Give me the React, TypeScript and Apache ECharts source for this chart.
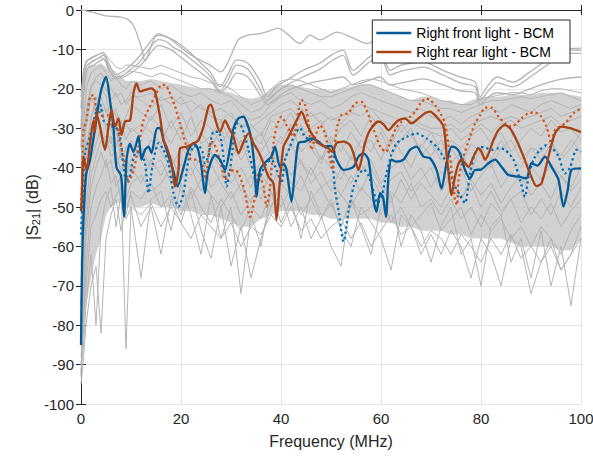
import React, { useEffect, useRef } from "react";
import * as echarts from "echarts";

// ---------- frequency grid used by the grey measurement band (MHz) ----------
const freqGrid = [0, 0.5, 1, 2, 3, 4, 5, 6, 7, 8, 9, 10, 12, 14, 16, 18, 20, 22, 24, 26, 28, 30, 32, 34, 36, 38, 40, 42, 44, 46, 48, 50, 52, 54, 56, 58, 60, 62, 64, 66, 68, 70, 72, 74, 76, 78, 80, 82, 84, 86, 88, 90, 92, 94, 96, 98, 100];

// dense core of the grey band (upper / lower edge, dB)
const coreTop = [-30, -20, -16, -14, -14, -13.5, -14.5, -16, -17, -17, -18, -18,
  -18, -17.5, -18, -18.5, -19, -19.5, -20, -20, -20.5, -21,
  -22, -22.5, -22, -20, -19, -19, -19.5, -20, -20, -20.5,
  -20, -19.5, -19, -19, -20, -21, -22, -23, -22, -22,
  -23, -23, -24, -23, -22, -22, -22, -21.5, -21.5, -21.5,
  -21, -21, -21, -21.5, -22];
const coreBottom = [-85, -80, -75, -68, -62, -58, -52, -50, -49, -49, -50, -50,
  -50, -49, -50, -50, -51, -51, -52, -52, -53, -54,
  -55, -55, -53, -52, -51, -51, -51, -52, -52, -53,
  -53, -53, -53, -53, -54, -54, -55, -55, -56, -56,
  -56, -57, -57, -58, -58, -58, -58, -59, -60, -60,
  -60, -60, -61, -61, -58];

// grey band curves (dB at freqGrid)
const grey01 = [-22, -15, -13, -12, -11.5, -11, -11.5, -13, -14.5, -15, -14, -14,
  -14.5, -15, -14, -15, -16, -17, -17.5, -18.5, -19, -20,
  -22, -24, -23, -20, -18, -17.5, -18, -19, -20, -21,
  -20, -19, -18, -17.5, -18, -19, -20, -20.5, -21, -22,
  -23, -23.5, -24, -24, -22.5, -22, -21.5, -21, -21, -21.5,
  -20.5, -20, -20, -20.5, -21];
const grey02 = [-40, -22, -16, -13, -12.5, -12, -13, -15, -16, -17, -16, -15.5,
  -16, -17, -16, -17, -18, -19, -20, -20, -21, -22,
  -24, -26, -25, -22, -20, -19, -20, -21, -22, -22,
  -21, -20, -19, -19, -20, -21, -22, -23, -23, -24,
  -25, -25, -26, -25, -24, -23, -23, -22.5, -22, -22.5,
  -22, -21.5, -21, -22, -23];
const grey03 = [-55, -30, -20, -16, -15, -14, -16, -18, -17, -19, -20, -18,
  -19, -18, -20, -19, -21, -22, -21, -23, -24, -23,
  -26, -28, -27, -24, -22, -21, -23, -24, -23, -25,
  -24, -22, -21, -22, -23, -24, -25, -26, -25, -27,
  -28, -27, -29, -27, -26, -25, -26, -24, -25, -26,
  -24, -23, -24, -25, -24];
const grey04 = [-70, -45, -28, -20, -17, -16, -18, -20, -22, -21, -24, -22,
  -22, -21, -23, -22, -24, -23, -25, -26, -25, -27,
  -29, -30, -28, -26, -24, -23, -25, -27, -26, -28,
  -27, -25, -24, -25, -26, -27, -28, -27, -29, -30,
  -30, -29, -31, -29, -28, -27, -28, -27, -28, -27,
  -26, -25, -27, -26, -25];
const grey05 = [-60, -40, -30, -22, -25, -20, -22, -28, -25, -30, -27, -24,
  -26, -28, -24, -30, -26, -32, -28, -30, -34, -30,
  -35, -32, -34, -28, -30, -26, -32, -30, -28, -34,
  -30, -28, -32, -27, -30, -34, -29, -32, -35, -31,
  -36, -33, -35, -32, -30, -34, -31, -36, -33, -30,
  -32, -28, -31, -30, -33];
const grey06 = [-75, -55, -35, -28, -22, -26, -25, -30, -35, -28, -33, -30,
  -32, -27, -30, -34, -29, -36, -31, -35, -30, -38,
  -33, -40, -36, -32, -34, -29, -36, -33, -38, -32,
  -36, -31, -35, -33, -38, -32, -36, -40, -34, -37,
  -33, -39, -36, -41, -35, -38, -33, -37, -40, -35,
  -38, -34, -37, -33, -36];
const grey07 = [-85, -60, -42, -32, -28, -24, -30, -34, -30, -38, -35, -33,
  -38, -33, -36, -40, -35, -38, -42, -36, -40, -44,
  -40, -45, -38, -36, -40, -34, -39, -42, -37, -40,
  -43, -37, -41, -38, -44, -40, -38, -43, -40, -45,
  -41, -44, -40, -46, -42, -39, -45, -41, -44, -40,
  -43, -39, -42, -45, -40];
const grey08 = [-93, -70, -50, -38, -34, -30, -35, -32, -40, -36, -42, -38,
  -35, -40, -38, -44, -39, -42, -37, -45, -42, -40,
  -46, -42, -48, -40, -37, -42, -38, -44, -41, -46,
  -40, -44, -39, -42, -47, -43, -41, -46, -43, -40,
  -46, -42, -48, -43, -47, -44, -49, -45, -42, -47,
  -44, -48, -42, -46, -43];
const grey09 = [-80, -75, -58, -45, -40, -36, -40, -38, -45, -42, -48, -44,
  -42, -46, -44, -40, -46, -48, -43, -47, -50, -46,
  -52, -48, -45, -50, -44, -47, -42, -48, -45, -50,
  -47, -50, -45, -48, -52, -46, -49, -44, -50, -48,
  -52, -48, -53, -50, -55, -49, -52, -48, -54, -50,
  -53, -49, -55, -51, -48];
const grey10 = [-90, -82, -65, -50, -45, -42, -38, -44, -42, -48, -52, -46,
  -48, -44, -50, -47, -52, -45, -50, -54, -48, -52,
  -56, -50, -53, -46, -50, -45, -52, -48, -53, -49,
  -55, -48, -52, -50, -47, -54, -50, -55, -52, -49,
  -56, -53, -50, -57, -52, -56, -53, -58, -55, -60,
  -55, -58, -62, -56, -52];
const grey11 = [-88, -78, -70, -55, -52, -48, -46, -50, -47, -45, -86, -50,
  -52, -49, -55, -50, -54, -58, -52, -55, -58, -54,
  -60, -55, -57, -52, -55, -50, -56, -53, -58, -55,
  -53, -58, -54, -60, -56, -52, -57, -55, -60, -56,
  -58, -62, -57, -60, -64, -58, -62, -57, -63, -60,
  -64, -60, -66, -62, -58];
const grey12 = [-92, -85, -75, -62, -80, -55, -48, -45, -55, -47, -53, -50,
  -68, -48, -46, -56, -44, -52, -62, -47, -58, -50,
  -72, -52, -60, -46, -54, -48, -58, -46, -52, -60,
  -65, -48, -55, -62, -50, -47, -60, -52, -56, -64,
  -55, -50, -62, -58, -70, -55, -52, -64, -58, -68,
  -56, -70, -60, -75, -58];
const grey13 = [-95, -88, -80, -70, -65, -82, -58, -52, -48, -56, -50, -47,
  -55, -50, -62, -48, -54, -46, -56, -63, -50, -65,
  -55, -68, -58, -50, -47, -55, -50, -58, -53, -48,
  -56, -60, -50, -54, -58, -66, -52, -55, -62, -57,
  -62, -56, -60, -68, -58, -62, -70, -58, -60, -72,
  -64, -58, -66, -62, -55];
const grey14 = [-65, -50, -38, -27, -24, -22, -26, -24, -27, -32, -29, -31,
  -29, -31, -34, -28, -33, -27, -34, -32, -28, -34,
  -38, -34, -31, -37, -32, -35, -29, -35, -39, -33,
  -34, -38, -33, -36, -31, -37, -33, -30, -37, -34,
  -38, -35, -39, -34, -36, -40, -35, -33, -38, -35,
  -36, -33, -38, -35, -31];
const grey15 = [-82, -66, -54, -42, -37, -33, -32, -37, -36, -41, -38, -40,
  -44, -38, -42, -37, -43, -40, -46, -39, -44, -48,
  -44, -49, -42, -45, -39, -44, -46, -40, -45, -43,
  -47, -42, -46, -40, -45, -49, -43, -48, -44, -47,
  -50, -45, -48, -44, -50, -46, -51, -48, -46, -52,
  -48, -52, -46, -50, -45];
const grey16 = [-50, -35, -26, -19, -18, -19, -20, -23, -21, -24, -23, -21,
  -23, -25, -22, -24, -22, -26, -24, -27, -28, -26,
  -30, -29, -32, -27, -26, -25, -28, -26, -29, -27,
  -29, -26, -27, -25, -28, -29, -31, -28, -30, -31,
  -32, -30, -33, -31, -29, -31, -29, -28, -30, -29,
  -28, -27, -29, -28, -27];
const greyBand = [grey01, grey02, grey03, grey04, grey05, grey06, grey07, grey08,
  grey09, grey10, grey11, grey12, grey13, grey14, grey15, grey16];

// upper smooth grey curves
const topFreq = [0, 2, 5, 8, 9.5, 10.5, 11.3, 12.2, 12.8, 13.4, 14.2, 15.2, 16.5, 18, 19.5, 21.5, 23.8, 25.8, 28, 29.3, 30.5, 31.5, 33, 35.8, 38, 39.4, 41.2, 43.8, 45.8, 47.8, 51.2, 54.4, 57.2, 60, 64, 68, 72, 76, 80, 84, 88, 92, 96, 100];
const topDb = [0, -0.5, -1.5, -1.8, -2.5, -4, -6.5, -10, -13, -11.5, -8.5, -6.5, -6.5, -7.5, -9, -11, -12.7, -14, -15.7, -13.5, -10, -7.5, -6.5, -6, -5.2, -4.6, -6, -8.5, -6.4, -7.6, -5.6, -7.1, -8.5, -7, -6, -7, -6.5, -8, -7.5, -9, -8, -9, -10, -10.2];
const upperFreq = [0, 0.5, 1.2, 2.5, 4.5, 5.5, 7, 8.5, 10, 11.5, 13, 14.5, 15.5, 17, 18.5, 20, 22, 24, 26, 27.8, 29.5, 31.1, 32.8, 34, 35.8, 37.3, 39, 41.2, 44.4, 47.8, 50, 52.4, 54.4, 57.4, 59.8, 61.8, 64, 66, 68.4, 72.4, 75.8, 78.8, 79.8, 81.5, 83.2, 86.4, 89.8, 93.2, 96.4, 100];
const upperA = [-25, -16, -13, -12, -10.8, -13.5, -16.5, -15.5, -14, -12, -9.5, -7, -6, -6.8, -7.6, -8.9, -11, -13.5, -16, -19.5, -16, -12.7, -13, -14.4, -18, -22, -19.5, -17.8, -15.3, -13.5, -11.5, -10.2, -15.3, -12.2, -10.2, -15.3, -14, -13.5, -13.2, -15.3, -17, -18.3, -22, -19, -17, -18.3, -15.7, -12.7, -10.2, -9.7];
const upperB = [-30, -18, -14, -13, -11.5, -14.5, -17, -16.5, -15, -13.5, -11, -8.5, -7.5, -8, -9.5, -10.5, -12.5, -14.5, -17, -20.5, -17.5, -14, -14.5, -16, -20, -23, -21, -19, -17, -15, -13, -11.5, -16.5, -13.5, -11.5, -16.5, -15.5, -15, -14.5, -16.5, -18.5, -19.5, -23, -20.5, -18.5, -19.5, -17, -14, -11, -11];
const upperC = [-35, -20, -15, -14, -12.5, -15, -17.5, -17, -16, -14.5, -12.5, -10, -9, -9.5, -10.5, -12, -14, -16, -18, -21, -19, -16, -16.5, -18, -21.5, -24, -22.5, -20.5, -19, -18, -17.5, -17, -19, -18, -17, -19, -18.5, -18, -17.5, -19, -20.5, -21, -24, -22, -21, -21.5, -20, -18.5, -17.5, -17];

// ---------- simulated / measured traces ----------
const frontFreq = [0, 0.3, 1.0, 1.8, 2.8, 3.5, 4.1, 5.0, 5.8, 6.5, 7.1, 8.0, 8.6, 9.1, 9.8, 10.5, 11.5, 12.1, 12.8, 13.5, 14.1, 15.2, 15.8, 16.5, 17.5, 18.5, 19.3, 20.5, 21.5, 22.5, 23.3, 24.0, 24.8, 25.4, 26.8, 27.8, 28.8, 29.8, 30.5, 31.5, 32.5, 33.4, 34.1, 34.7, 35.1, 35.8, 37.0, 38.1, 38.8, 39.8, 40.5, 41.1, 42.1, 42.8, 43.5, 44.8, 46.1, 47.5, 48.8, 50.0, 51.1, 52.5, 54.5, 55.5, 56.5, 57.5, 58.5, 59.1, 59.8, 60.4, 61.0, 61.5, 62.1, 63.1, 64.5, 65.8, 67.1, 68.5, 69.8, 71.1, 72.1, 73.1, 74.1, 75.0, 75.8, 76.8, 77.8, 78.8, 80.0, 81.5, 82.8, 84.1, 85.5, 87.5, 89.1, 90.1, 91.3, 92.8, 94.1, 95.5, 96.5, 97.3, 98.1, 100];
const frontDb = [-85, -60, -42, -38, -30, -24, -20, -17, -23, -30, -40, -42, -52.5, -38, -34, -36, -32, -38, -35.5, -34.7, -36.3, -30, -30, -33, -37, -41, -44.8, -40, -35.5, -33.8, -35, -39, -46.5, -41, -36.8, -38, -40.6, -35, -30, -27.5, -27.1, -29.5, -33, -40, -47.4, -40.6, -38.5, -37.2, -34.7, -39.8, -39, -40.6, -48.6, -40.6, -33.8, -33.4, -32.6, -33.4, -34.7, -34.5, -38, -40.6, -39.8, -37.2, -36.4, -38, -48.2, -51.2, -46.5, -47.5, -52.5, -42.3, -38, -38.5, -38, -35.5, -34.7, -37.2, -37.6, -40.6, -45.3, -38.9, -34.7, -35, -36.4, -40.6, -42.7, -40.6, -40.5, -38.9, -38, -39.8, -41.9, -42.3, -42.7, -38.9, -39.5, -37.2, -39.8, -43.1, -49.9, -46, -40.6, -40.2];

const rearFreq = [0, 0.1, 0.5, 1.1, 1.8, 2.5, 2.8, 3.1, 3.8, 4.8, 5.5, 6.1, 6.8, 7.5, 8.1, 8.8, 9.8, 10.5, 11.1, 11.8, 12.8, 14.1, 14.8, 15.8, 16.5, 17.1, 18.1, 18.8, 19.5, 19.8, 21.1, 22.3, 23.5, 24.5, 25.5, 26.0, 26.8, 27.8, 28.8, 29.6, 30.5, 31.5, 32.5, 33.5, 34.5, 35.5, 36.5, 37.5, 38.5, 39.1, 39.8, 40.5, 41.5, 42.5, 43.5, 44.1, 45.1, 46.1, 47.5, 48.5, 49.5, 50.3, 51.1, 52.5, 53.8, 54.5, 55.5, 56.1, 56.8, 57.8, 59.5, 60.5, 61.5, 62.5, 63.5, 64.8, 66.1, 67.5, 68.8, 69.8, 71.1, 72.5, 73.1, 73.8, 74.1, 74.8, 75.5, 76.1, 77.5, 78.5, 79.5, 80.1, 80.8, 81.5, 82.5, 83.5, 84.8, 85.8, 87.1, 88.5, 89.8, 91.1, 92.1, 93.5, 94.8, 96.1, 97.8, 100];
const rearDb = [-51, -49, -37.2, -40.6, -34, -28, -31, -26.2, -29.6, -35.5, -29.6, -25.4, -29.6, -27.5, -31.7, -28.3, -28, -21.1, -18.6, -20.7, -20.3, -19.9, -20.7, -27.1, -33, -34.7, -38.9, -44.8, -40.6, -35.1, -34.7, -34, -33, -29.6, -24.5, -24, -27.5, -30.9, -28, -30, -32.2, -36.4, -33.5, -31.3, -33.8, -36, -38.9, -42.3, -44, -53.3, -43.1, -34.7, -32.2, -29.6, -27.1, -25.8, -28.8, -31.3, -33.8, -34.5, -35.1, -36, -33.8, -33.4, -34.3, -36.4, -40.6, -38, -33.8, -30.5, -28.3, -29, -30.5, -29.2, -28, -27.5, -28.8, -27.5, -26.2, -25.8, -27.1, -29.6, -36.4, -44.8, -47, -42.3, -39, -38, -39.8, -37.2, -35.1, -36, -38, -36.5, -33, -30.5, -29.2, -30, -33, -37.2, -41.5, -44.7, -44, -37.2, -31.3, -29.6, -30, -31];

const frontMeasFreq = [0, 0.4, 0.8, 1.8, 3.1, 3.8, 4.5, 5.3, 6.1, 6.8, 7.8, 8.8, 9.5, 10.1, 10.8, 11.8, 12.8, 13.5, 14.0, 14.5, 15.5, 16.5, 17.5, 18.5, 19.5, 20.5, 21.5, 22.5, 23.5, 24.3, 24.8, 25.5, 26.5, 27.5, 28.5, 29.1, 29.8, 30.5, 31.1, 32.1, 33.5, 34.5, 35.2, 36.1, 37.1, 38.1, 39.1, 40.1, 40.8, 41.8, 42.8, 43.8, 44.8, 46.1, 47.5, 48.8, 50.1, 50.8, 51.5, 52.5, 53.5, 54.5, 55.5, 56.5, 57.5, 58.5, 59.3, 60.2, 61, 62, 63, 64, 65.1, 67.1, 69.1, 71.1, 72.8, 73.8, 74.8, 75.8, 76.8, 77.8, 78.8, 79.8, 81, 82.1, 83.5, 84.8, 86.5, 87.8, 88.8, 89.5, 90.5, 91.8, 93.1, 94.2, 95.5, 96.8, 97.8, 99.1, 100];
const frontMeasDb = [-57, -45, -36.4, -32, -25.4, -24, -28, -29, -29.6, -29.6, -32.2, -42.3, -43.1, -39.8, -36.4, -36, -38.9, -46.5, -42, -38, -33.8, -35.5, -39, -46.5, -49.9, -46.5, -38, -34.7, -34.5, -36, -38.9, -37, -30.9, -30.9, -37.2, -44.8, -40.6, -33, -28.8, -29.6, -35.5, -41.5, -44, -41.5, -38.9, -38, -40.6, -44, -38, -34.7, -31.3, -30, -32.2, -33, -33.8, -34.7, -37.2, -45.7, -50.8, -58.8, -51, -45, -42, -40.5, -42, -46, -49, -47, -42, -37, -34, -33, -32.2, -31.3, -32.6, -34.7, -38, -41.5, -44.8, -47, -49, -41.5, -36.4, -34.7, -35, -35.5, -35.1, -35.5, -38, -43.1, -47.4, -42.3, -38, -35.5, -34.3, -35, -37.2, -41.5, -40, -35.5, -36];

const rearMeasFreq = [0, 0.3, 0.5, 1.1, 1.8, 2.5, 3.1, 3.8, 4.5, 5.5, 6.1, 6.8, 7.3, 7.8, 8.5, 9.1, 9.5, 10.5, 11.5, 12.5, 13.8, 15.1, 16.1, 16.8, 17.5, 18.8, 19.8, 21.1, 22.1, 23.2, 24.5, 24.9, 25.8, 26.4, 27.1, 28, 28.8, 29.8, 30.8, 31.7, 32.8, 33.8, 34.8, 35.5, 36.5, 37.1, 37.8, 38.5, 39.1, 40.1, 41.2, 42.5, 43.5, 44.1, 44.8, 45.5, 46.1, 46.9, 47.8, 48.8, 49.8, 50.3, 51.1, 52.1, 53.5, 54.8, 56.1, 57.1, 58.1, 59, 60, 61, 62, 63, 64, 65, 66, 67, 68, 69, 69.8, 71, 72, 72.8, 73.8, 74.8, 75.2, 75.5, 76.5, 77.8, 78.8, 79.8, 80.8, 82.1, 83.5, 84.8, 86.1, 87.1, 88.1, 89.5, 90.8, 92, 93.1, 94.1, 94.8, 96.8, 98.5, 100];
const rearMeasDb = [-51, -40, -30.5, -28, -22, -21.6, -25.8, -26, -27.1, -26.7, -29, -28.8, -30, -33.8, -37.2, -41.5, -43.6, -40.6, -34.7, -28, -24.5, -21.1, -19, -19, -20.3, -24.5, -28.8, -34.7, -38, -38, -39.8, -43, -33.8, -33.5, -35.5, -39, -43.1, -41, -40.6, -42, -46.5, -52.5, -47.4, -41.5, -44.8, -49.9, -44.8, -33.8, -29.6, -27.1, -29.5, -32.2, -25.4, -22.8, -24, -28.8, -35.5, -32, -29.2, -31.3, -38, -40.6, -30.5, -26.7, -26.2, -23.7, -23.3, -25.4, -28.8, -32, -35, -36, -33, -30, -28.5, -27.5, -27, -25.5, -23.5, -22.5, -22.8, -24.5, -26.5, -28.8, -37.2, -48.2, -49.5, -43.1, -37.2, -32.2, -28.8, -26.7, -24.8, -24.8, -27.1, -28.8, -29.6, -28.8, -27.5, -26.2, -26, -27, -29.6, -33.8, -30.5, -28.8, -26.2, -25];

const xTicks = { min: 0, max: 100, interval: 20 };
const yTicks = { min: -100, max: 0, interval: 10 };
const legendNames = ["Right front light - BCM", "Right rear light - BCM"];

const FONT = "'Liberation Sans', Arial, Helvetica, sans-serif";
const AXIS = "#262626";
const GREY = "#b4b4b4";

const pairs = (xs: number[], ys: number[]) => {
  const n = Math.min(xs.length, ys.length);
  const out: number[][] = [];
  for (let i = 0; i < n; i++) out.push([xs[i], ys[i]]);
  return out;
};

function buildOption() {
  const series: any[] = [];
  // dense band core: one polygon between the two edges, placed through the axes
  const coreData = freqGrid.map((f, i) => [f, coreTop[i], coreBottom[i]]);
  series.push({
    type: "custom", name: "core", silent: true, z: 1,
    data: coreData,
    encode: { x: 0, y: [1, 2] },
    renderItem: (params: any, api: any) => {
      if (params.dataIndex !== 0) return null;
      const pts: number[][] = [];
      for (let i = 0; i < coreData.length; i++) pts.push(api.coord([coreData[i][0], coreData[i][1]]));
      for (let i = coreData.length - 1; i >= 0; i--) pts.push(api.coord([coreData[i][0], coreData[i][2]]));
      return {
        type: "polygon",
        shape: { points: pts },
        style: { fill: "#c6c6c6", opacity: 0.8 },
      };
    },
  });
  greyBand.forEach((ys, k) => {
    series.push({
      type: "line", name: "grey" + k, symbol: "none", silent: true,
      data: pairs(freqGrid, ys), lineStyle: { color: GREY, width: 1 }, z: 2,
    });
  });
  [[topFreq, topDb], [upperFreq, upperA], [upperFreq, upperB], [upperFreq, upperC]].forEach(([xs, ys], k) => {
    series.push({
      type: "line", name: "upper" + k, symbol: "none", silent: true, smooth: 0.3,
      data: pairs(xs, ys), lineStyle: { color: GREY, width: 1.3 }, z: 2,
    });
  });
  series.push({
    type: "line", name: "frontMeas", symbol: "none", smooth: 0.25,
    data: pairs(frontMeasFreq, frontMeasDb),
    lineStyle: { color: "#0072BD", width: 2.3, type: [2.3, 3] }, z: 3,
  });
  series.push({
    type: "line", name: "rearMeas", symbol: "none", smooth: 0.25,
    data: pairs(rearMeasFreq, rearMeasDb),
    lineStyle: { color: "#D95319", width: 2.3, type: [2.3, 3] }, z: 3,
  });
  series.push({
    type: "line", name: legendNames[0], symbol: "none", smooth: 0.25,
    data: pairs(frontFreq, frontDb), color: "#005B97",
    lineStyle: { color: "#005B97", width: 2.3 }, z: 4,
  });
  series.push({
    type: "line", name: legendNames[1], symbol: "none", smooth: 0.25,
    data: pairs(rearFreq, rearDb), color: "#A84114",
    lineStyle: { color: "#A84114", width: 2.3 }, z: 4,
  });

  const tickStyle = { show: true, inside: true, length: 5, lineStyle: { color: AXIS, width: 1 } };
  const lineStyle = { show: true, lineStyle: { color: AXIS, width: 1 } };

  return {
    animation: false,
    backgroundColor: "#ffffff",
    textStyle: { fontFamily: FONT },
    grid: { left: 81, right: 12, top: 10, bottom: 53, containLabel: false, outerBoundsMode: "none" },
    legend: {
      data: legendNames,
      orient: "vertical",
      right: 23,
      top: 20,
      padding: [5, 16, 3, 4],
      itemGap: 3,
      itemWidth: 35,
      itemHeight: 2.5,
      icon: "rect",
      backgroundColor: "#ffffff",
      borderColor: AXIS,
      borderWidth: 1,
      textStyle: { fontSize: 14, color: "#000000", fontFamily: FONT, lineHeight: 16 },
    },
    xAxis: [
      {
        type: "value", ...xTicks, position: "bottom",
        axisLine: lineStyle, axisTick: tickStyle,
        axisLabel: { fontSize: 15, color: AXIS, margin: 7, fontFamily: FONT },
        splitLine: { show: true, lineStyle: { color: "#e4e4e4", width: 1 } },
        name: "Frequency (MHz)", nameLocation: "middle", nameGap: 29, nameMoveOverlap: false,
        nameTextStyle: { fontSize: 16, color: AXIS, fontFamily: FONT },
      },
      {
        type: "value", ...xTicks, position: "top",
        axisLine: lineStyle, axisTick: tickStyle,
        axisLabel: { show: false }, splitLine: { show: false },
      },
    ],
    yAxis: [
      {
        type: "value", ...yTicks, position: "left",
        axisLine: lineStyle, axisTick: tickStyle,
        axisLabel: { fontSize: 15, color: AXIS, margin: 7, fontFamily: FONT },
        splitLine: { show: true, lineStyle: { color: "#e4e4e4", width: 1 } },
        name: "|S{sub|21}| (dB)", nameLocation: "middle", nameGap: 40, nameMoveOverlap: false,
        nameTextStyle: {
          fontSize: 16, color: AXIS, fontFamily: FONT, lineHeight: 18,
          rich: { sub: { fontSize: 11, color: AXIS, fontFamily: FONT, verticalAlign: "bottom", lineHeight: 12 } },
        },
      },
      {
        type: "value", ...yTicks, position: "right",
        axisLine: lineStyle, axisTick: tickStyle,
        axisLabel: { show: false }, splitLine: { show: false },
      },
    ],
    series,
  };
}

export default function App() {
  const ref = useRef<HTMLDivElement>(null);
  useEffect(() => {
    if (!ref.current) return;
    const chart = echarts.init(ref.current, null, { renderer: "svg" });
    chart.setOption(buildOption() as any);
    return () => chart.dispose();
  }, []);
  return (
    <div
      ref={ref}
      style={{ position: "fixed", left: 0, top: 0, width: 593, height: 457, background: "#ffffff" }}
    />
  );
}
